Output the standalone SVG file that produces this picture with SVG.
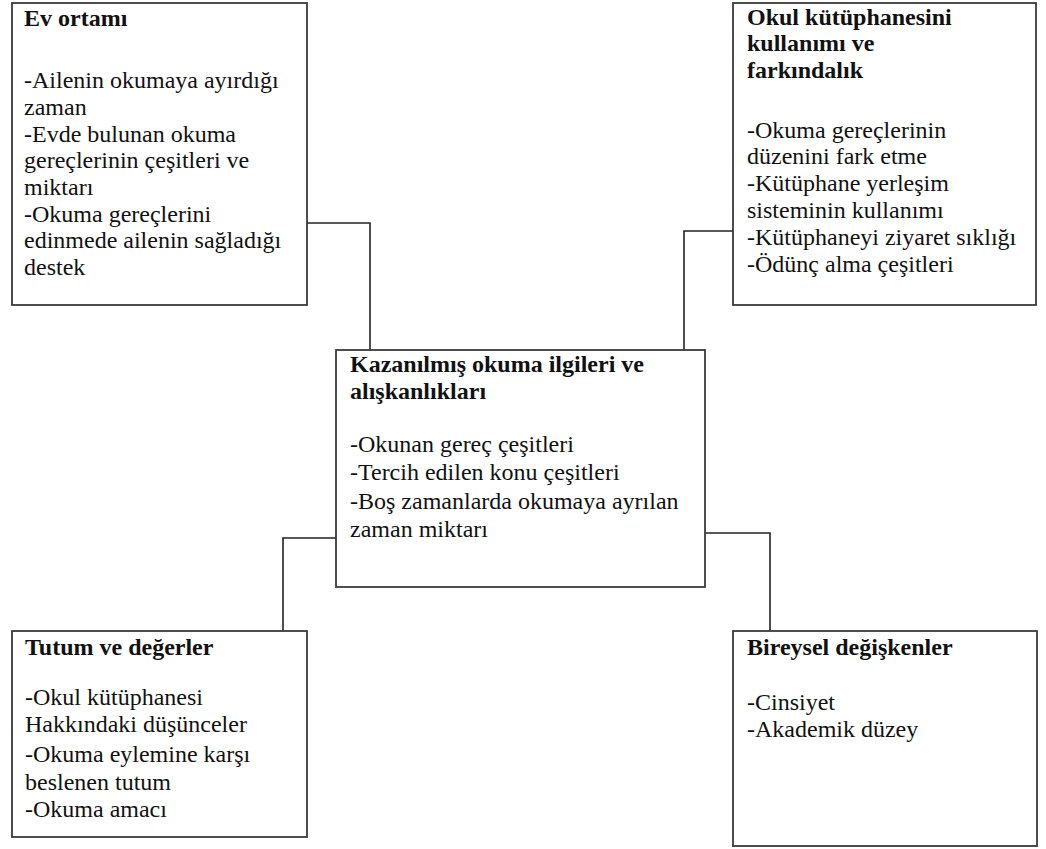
<svg xmlns="http://www.w3.org/2000/svg" width="1046" height="849" viewBox="0 0 1046 849" font-family="'Liberation Serif', 'Times New Roman', serif">
<style>
.box{fill:#ffffff;stroke:#3a3a3a;stroke-width:1.8}
.conn{fill:none;stroke:#222;stroke-width:1.6}
text{font-family:"Liberation Serif","Times New Roman",serif;font-size:24px;fill:#111111}
.t{font-weight:bold}
</style>
<rect width="1046" height="849" fill="#ffffff"/>
<g id="connectors">
<path class="conn" d="M307,223 H370 V350"/>
<path class="conn" d="M684,350 V231 H733"/>
<path class="conn" d="M336,538 H283 V631"/>
<path class="conn" d="M705,533 H770 V631"/>
</g>
<g id="ev-ortami">
<rect class="box" x="12" y="3" width="295" height="302"/>
<text class="t" x="24" y="26">Ev ortamı</text>
<text x="24" y="88">-Ailenin okumaya ayırdığı</text>
<text x="24" y="115">zaman</text>
<text x="24" y="142">-Evde bulunan okuma</text>
<text x="24" y="168">gereçlerinin çeşitleri ve</text>
<text x="24" y="195">miktarı</text>
<text x="24" y="222">-Okuma gereçlerini</text>
<text x="24" y="248">edinmede ailenin sağladığı</text>
<text x="24" y="275">destek</text>
</g>
<g id="okul-kutuphanesi">
<rect class="box" x="733" y="3" width="303" height="302"/>
<text class="t" x="747" y="25">Okul kütüphanesini</text>
<text class="t" x="747" y="51">kullanımı ve</text>
<text class="t" x="747" y="78">farkındalık</text>
<text x="747" y="138">-Okuma gereçlerinin</text>
<text x="747" y="164">düzenini fark etme</text>
<text x="747" y="191">-Kütüphane yerleşim</text>
<text x="747" y="218">sisteminin kullanımı</text>
<text x="747" y="245">-Kütüphaneyi ziyaret sıklığı</text>
<text x="747" y="272">-Ödünç alma çeşitleri</text>
</g>
<g id="kazanilmis">
<rect class="box" x="336" y="350" width="369" height="237"/>
<text class="t" x="350" y="372">Kazanılmış okuma ilgileri ve</text>
<text class="t" x="350" y="399">alışkanlıkları</text>
<text x="350" y="452">-Okunan gereç çeşitleri</text>
<text x="350" y="480">-Tercih edilen konu çeşitleri</text>
<text x="350" y="509">-Boş zamanlarda okumaya ayrılan</text>
<text x="350" y="537">zaman miktarı</text>
</g>
<g id="tutum">
<rect class="box" x="12" y="631" width="295" height="206"/>
<text class="t" x="25" y="655">Tutum ve değerler</text>
<text x="25" y="705">-Okul kütüphanesi</text>
<text x="25" y="732">Hakkındaki düşünceler</text>
<text x="25" y="762">-Okuma eylemine karşı</text>
<text x="25" y="790">beslenen tutum</text>
<text x="25" y="817">-Okuma amacı</text>
</g>
<g id="bireysel">
<rect class="box" x="733" y="631" width="304" height="215"/>
<text class="t" x="747" y="655">Bireysel değişkenler</text>
<text x="747" y="710">-Cinsiyet</text>
<text x="747" y="737">-Akademik düzey</text>
</g>
</svg>
